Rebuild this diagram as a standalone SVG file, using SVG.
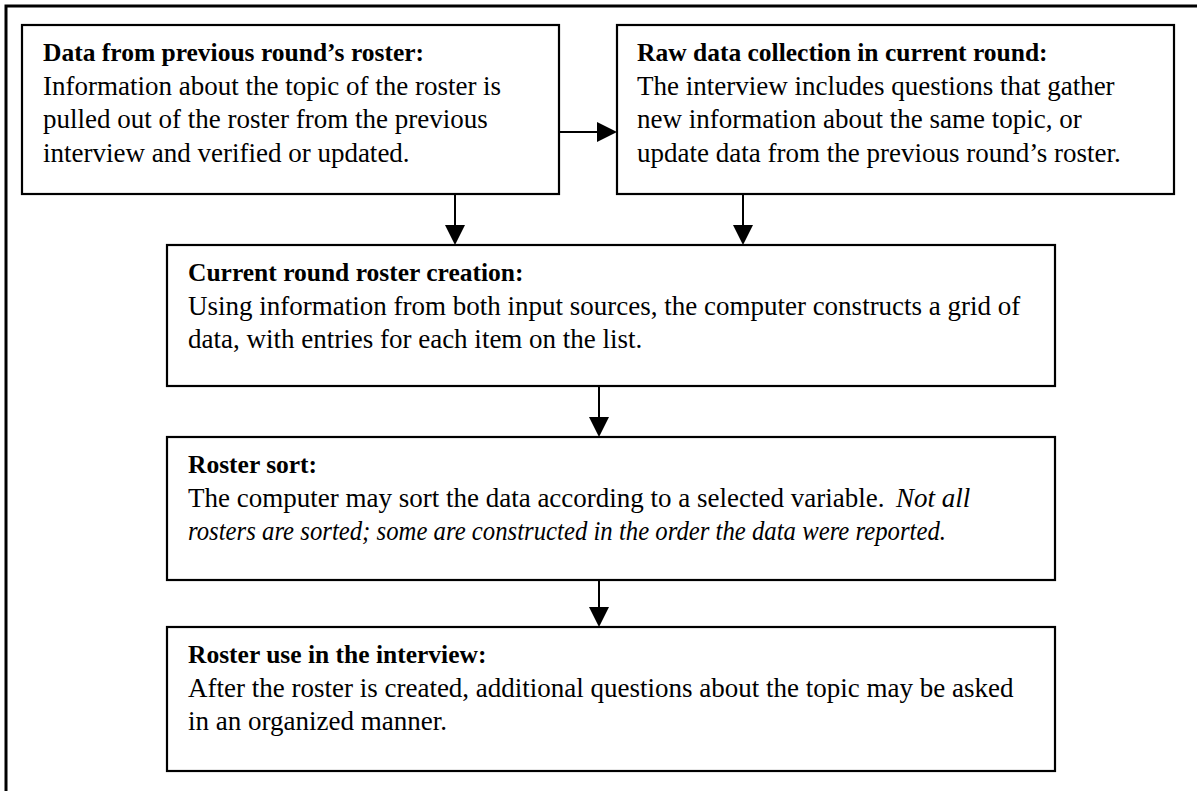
<svg xmlns="http://www.w3.org/2000/svg" width="1201" height="791" viewBox="0 0 1201 791">
  <style>
    .frame { fill: none; stroke: #000; stroke-width: 3; }
    .box { fill: #fff; stroke: #000; stroke-width: 2.2; }
    .link { fill: none; stroke: #000; stroke-width: 2; }
    .head { fill: #000; }
    text { font-family: "Liberation Serif", "Times New Roman", serif; font-size: 27px; fill: #000; }
    .title { font-weight: bold; font-size: 25.5px; }
    .it { font-style: italic; }
  </style>
  <rect width="1201" height="791" fill="#fff"/>

  <!-- page frame: top and left rules only -->
  <path class="frame" d="M6,791 V6 H1197"/>

  <g id="connectors">
    <path d="M559,132 H600" class="link"/>
    <path class="head" d="M597,122 L617,132 L597,142 Z"/>
    <path d="M455,194 V228" class="link"/>
    <path class="head" d="M445,225 L455,245 L465,225 Z"/>
    <path d="M743,194 V228" class="link"/>
    <path class="head" d="M733,225 L743,245 L753,225 Z"/>
    <path d="M599,386 V420" class="link"/>
    <path class="head" d="M589,417 L599,437 L609,417 Z"/>
    <path d="M599,580 V610" class="link"/>
    <path class="head" d="M589,607 L599,627 L609,607 Z"/>
  </g>

  <g id="node-previous">
    <rect class="box" x="22" y="25" width="537" height="169"/>
    <text x="43" y="61" class="title">Data from previous round’s roster:</text>
    <text x="43" y="95">Information about the topic of the roster is</text>
    <text x="43" y="128">pulled out of the roster from the previous</text>
    <text x="43" y="162">interview and verified or updated.</text>
  </g>

  <g id="node-raw">
    <rect class="box" x="617" y="25" width="557" height="169"/>
    <text x="637" y="61" class="title">Raw data collection in current round:</text>
    <text x="637" y="95">The interview includes questions that gather</text>
    <text x="637" y="128">new information about the same topic, or</text>
    <text x="637" y="162">update data from the previous round’s roster.</text>
  </g>

  <g id="node-creation">
    <rect class="box" x="167" y="245" width="888" height="141"/>
    <text x="188" y="281" class="title">Current round roster creation:</text>
    <text x="188" y="315">Using information from both input sources, the computer constructs a grid of</text>
    <text x="188" y="348">data, with entries for each item on the list.</text>
  </g>

  <g id="node-sort">
    <rect class="box" x="167" y="437" width="888" height="143"/>
    <text x="188" y="473" class="title">Roster sort:</text>
    <text x="188" y="507">The computer may sort the data according to a selected variable.</text>
    <text x="896" y="507" class="it">Not all</text>
    <text x="188" y="540" class="it" textLength="758" lengthAdjust="spacingAndGlyphs">rosters are sorted; some are constructed in the order the data were reported.</text>
  </g>

  <g id="node-use">
    <rect class="box" x="167" y="627" width="888" height="144"/>
    <text x="188" y="663" class="title">Roster use in the interview:</text>
    <text x="188" y="697">After the roster is created, additional questions about the topic may be asked</text>
    <text x="188" y="730">in an organized manner.</text>
  </g>
</svg>
